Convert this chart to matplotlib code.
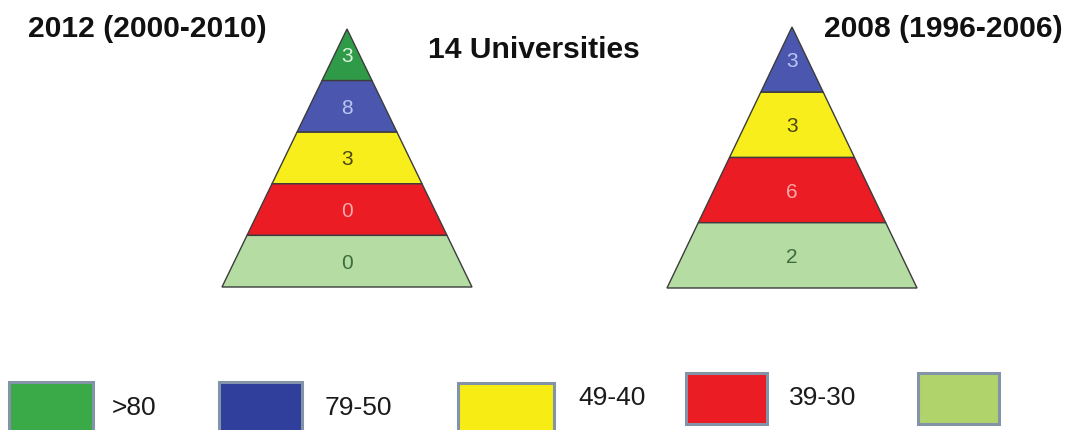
import matplotlib.pyplot as plt
from matplotlib.patches import Polygon, Rectangle

# number of universities per score band, top of pyramid first
bands_2012 = [3, 8, 3, 0, 0]
bands_2008 = [3, 3, 6, 2]

band_fill_2012 = ["#2f9b49", "#4b57ae", "#f8ee1c", "#ec1c24", "#b5dca2"]
band_fill_2008 = ["#4b57ae", "#f8ee1c", "#ec1c24", "#b5dca2"]
num_colors_2012 = ["#d8f5dc", "#b9c6f2", "#4a4712", "#f7a9a9", "#3d6e3d"]
num_colors_2008 = ["#b9c6f2", "#4a4712", "#f7a9a9", "#3d6e3d"]

legend_labels = [">80", "79-50", "49-40", "39-30", ""]
legend_fill = ["#3aa948", "#2f3f9b", "#f7ec14", "#ec1c24", "#b1d36c"]

W, H = 1070, 431
fig = plt.figure(figsize=(W / 100, H / 100), dpi=100)
ax = fig.add_axes([0, 0, 1, 1])
ax.set_xlim(0, W)
ax.set_ylim(H, 0)
ax.axis("off")


def pyramid(counts, fills, num_cols, apex, base_y, half_base):
    ax_x, ax_y = apex
    n = len(counts)
    step = (base_y - ax_y) / n
    for i, (c, fc, tc) in enumerate(zip(counts, fills, num_cols)):
        y0 = ax_y + i * step
        y1 = y0 + step
        w0 = half_base * (y0 - ax_y) / (base_y - ax_y)
        w1 = half_base * (y1 - ax_y) / (base_y - ax_y)
        pts = [(ax_x - w0, y0), (ax_x + w0, y0), (ax_x + w1, y1), (ax_x - w1, y1)]
        ax.add_patch(Polygon(pts, closed=True, facecolor=fc,
                             edgecolor="#3c3c3c", lw=1.0))
        ax.text(ax_x, (y0 + y1) / 2 + 1, str(c), color=tc, fontsize=15,
                family="Liberation Sans", ha="center", va="center")


pyramid(bands_2012, band_fill_2012, num_colors_2012, (347, 30), 288, 125)
pyramid(bands_2008, band_fill_2008, num_colors_2008, (792, 28), 289, 125)

title_kw = dict(fontsize=21.6, fontweight="bold", family="Liberation Sans",
                color="#111111", va="center")
ax.text(28, 29, "2012 (2000-2010)", ha="left", **title_kw)
ax.text(1063, 29, "2008 (1996-2006)", ha="right", **title_kw)
ax.text(428, 50, "14 Universities", ha="left",
        **{**title_kw, "fontsize": 21.6})

# legend swatches along the bottom
boxes = [(9, 383, 84, 60), (219, 383, 83, 60), (458, 384, 96, 60),
         (686, 374, 81, 51), (918, 374, 81, 51)]
text_pos = [(112, 408), (325, 408), (578, 398), (789, 398), (1010, 398)]
for (x, y, w, h), fc, lab, (tx, ty) in zip(boxes, legend_fill, legend_labels, text_pos):
    ax.add_patch(Rectangle((x, y), w, h, facecolor=fc, edgecolor="#8393a8",
                           lw=2.2, clip_on=True))
    ax.text(tx, ty, lab, fontsize=19, family="Liberation Sans",
            color="#1a1a1a", ha="left", va="center")

fig.savefig("out.png", dpi=100, facecolor="white")
